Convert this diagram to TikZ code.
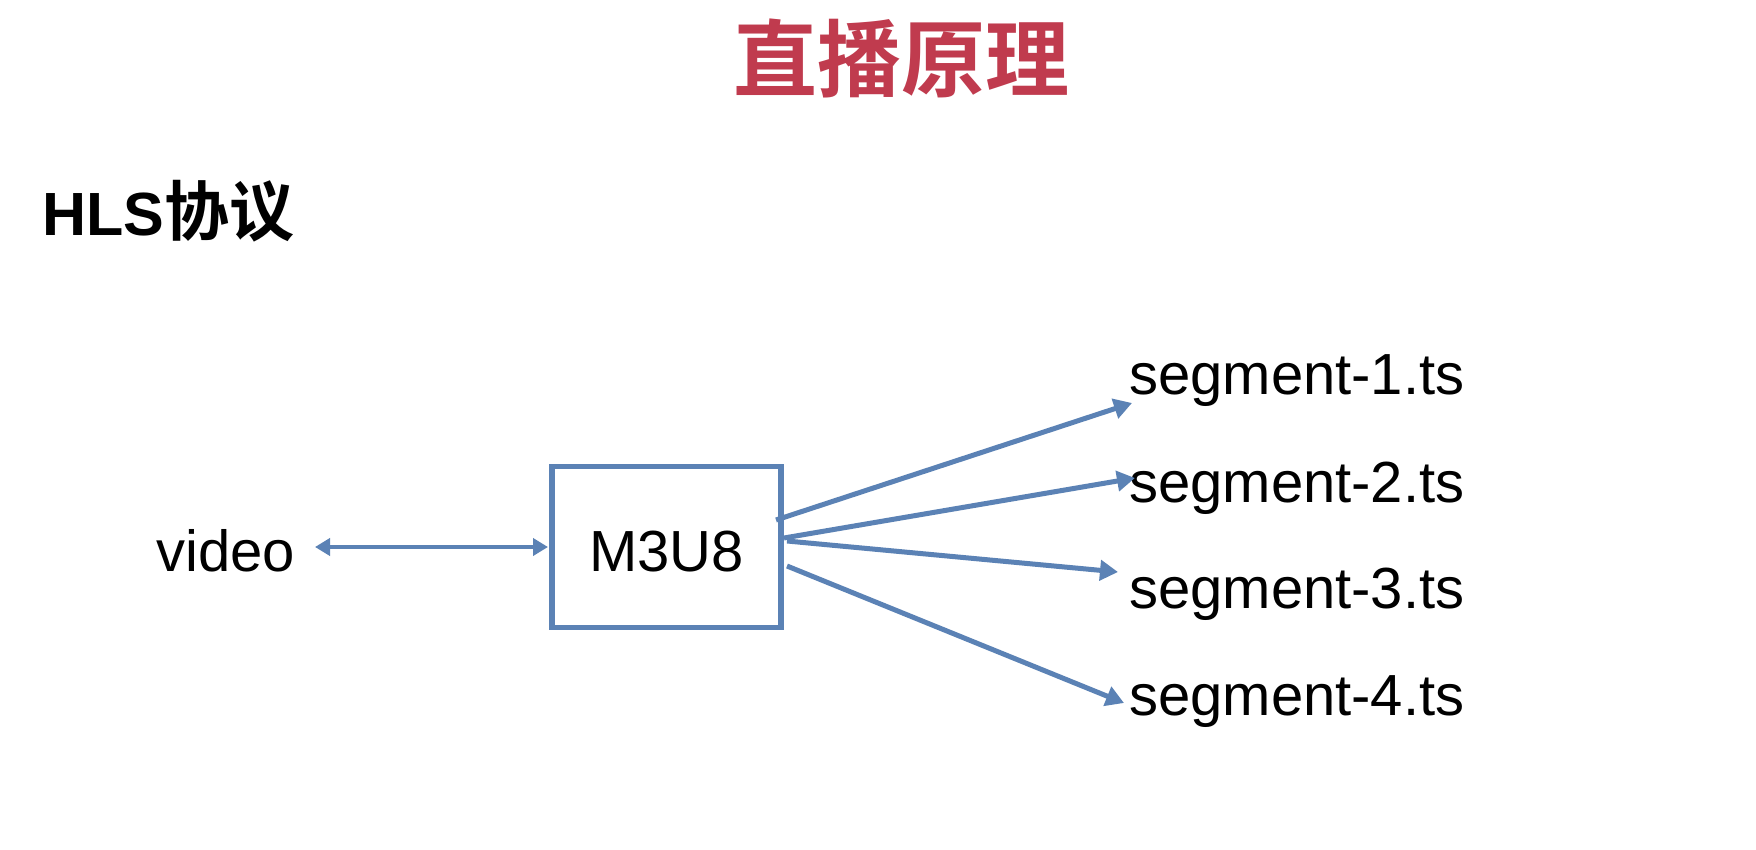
\documentclass[tikz,border=0pt]{standalone}
\usepackage{fontspec}
\setmainfont{Liberation Sans}
\newfontfamily\cjkb[BoldFont={Noto Sans CJK SC Bold}]{Noto Sans CJK SC}
\usetikzlibrary{arrows.meta}
\definecolor{flow}{HTML}{5B82B5}
\definecolor{ttl}{HTML}{C03B4E}
\tikzset{
  x=1pt,y=-1pt,
  lbl/.style={inner sep=0pt,font=\fontsize{58}{60}\selectfont,text=black},
  seglbl/.style={lbl,anchor=west},
  conn/.style={draw=flow,line width=5pt,-{Triangle[length=18pt,width=20pt]}},
  conn2/.style={draw=flow,line width=3.8pt,{Triangle[length=15pt,width=17pt]}-{Triangle[length=15pt,width=17pt]}},
  boxn/.style={draw=flow,line width=5.2pt,minimum width=229pt,minimum height=161pt,inner sep=0pt}
}
\begin{document}
\begin{tikzpicture}
\useasboundingbox (0,0) rectangle (1756,850);
\fill[white] (0,0) rectangle (1756,850);
\node[inner sep=0pt,text=ttl,font=\cjkb\bfseries\fontsize{84}{90}\selectfont] (title) at (901,58) {直播原理};
\node[inner sep=0pt,anchor=west,font=\bfseries\fontsize{61}{64}\selectfont] (hls) at (42,211) {HLS{\cjkb\fontsize{65}{65}\selectfont 协议}};
\node[lbl] (video) at (225.5,551) {video};
\node[boxn,lbl,draw=flow,text height=48pt,text depth=0pt] (m3u8) at (666.5,547) {M3U8};
\node[seglbl] (s1) at (1129,381) {segment-1.ts};
\node[seglbl] (s2) at (1129,488) {segment-2.ts};
\node[seglbl] (s3) at (1129,594) {segment-3.ts};
\node[seglbl] (s4) at (1129,702) {segment-4.ts};
\coordinate (v1) at (315,547);
\coordinate (b0) at (548,547);
\coordinate (o1) at (776,520);
\coordinate (o2) at (784,538);
\coordinate (o3) at (787,541);
\coordinate (o4) at (787,566);
\coordinate (e1) at (1132,403);
\coordinate (e2) at (1135,478);
\coordinate (e3) at (1118,572);
\coordinate (e4) at (1124,703);
\draw[conn2] (v1) -- (b0);
\draw[conn] (o1) -- (e1);
\draw[conn] (o2) -- (e2);
\draw[conn] (o3) -- (e3);
\draw[conn] (o4) -- (e4);
\end{tikzpicture}
\end{document}
